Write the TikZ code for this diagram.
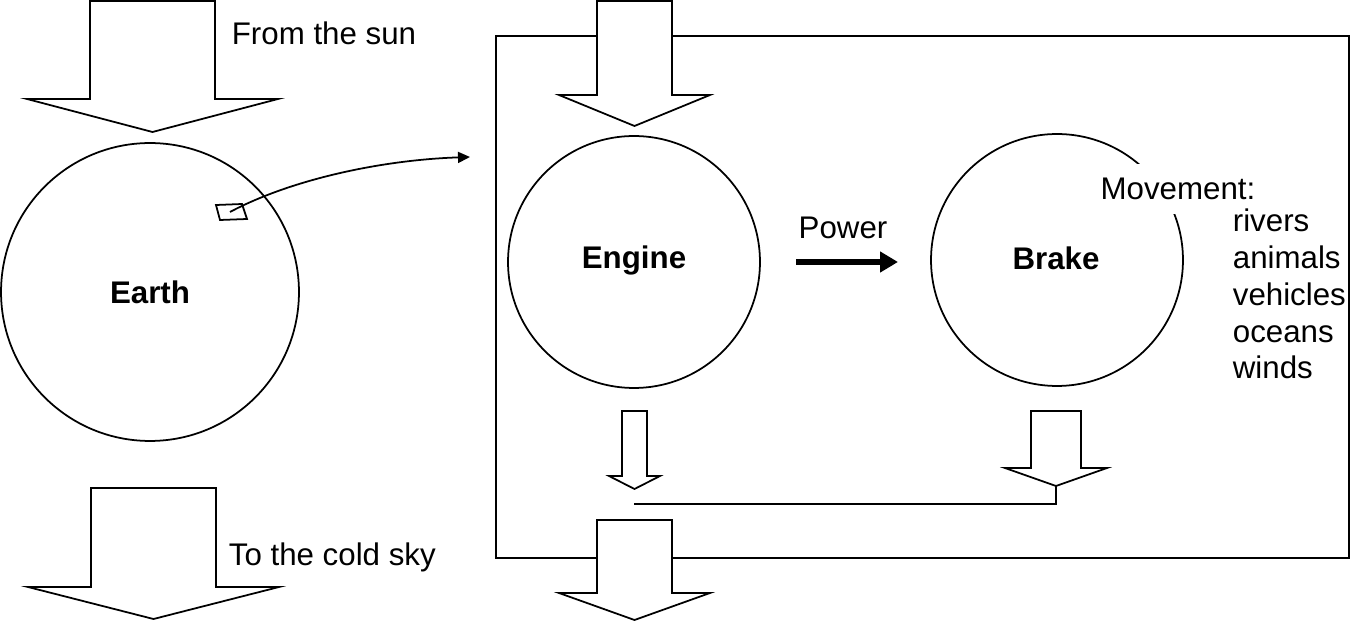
\documentclass[tikz,border=0pt]{standalone}
\usepackage{fontspec}
\setmainfont{Liberation Sans}
\usetikzlibrary{arrows.meta}
\newcommand{\txtsize}{\fontsize{17.8}{20.9}\selectfont}
\tikzset{
  ball/.style={circle,draw,inner sep=0pt,minimum size=#1},
  lbl/.style={font=\txtsize,inner sep=0pt},
  blockarrow/.style={draw,fill=white,line join=miter},
  powerline/.style={line width=3.4pt,-{Triangle[length=0.36cm,width=0.4cm]}},
  thinarrow/.style={-{Triangle[length=0.24cm,width=0.22cm]}}
}

\begin{document}
\begin{tikzpicture}[x=0.02cm,y=-0.02cm,line width=1pt]
\useasboundingbox (0,0) rectangle (1363,621);
%system box
\draw (496,36) rectangle (1349,558);
%earth
\node[ball=5.96cm,font=\txtsize\bfseries] (earth) at (150,292) {Earth};
\draw (216,205)--(242,204)--(247,219)--(220,220)--cycle; %patch
\coordinate (patch) at (230,212);
\coordinate (zoomin) at (470,157);
\draw[thinarrow] (patch) .. controls (290,180) and (380,160) .. (zoomin);
%engine and brake
\node[ball=5.04cm,font=\txtsize\bfseries] (engine) at (634,262) {};
\node[lbl,font=\txtsize\bfseries] (enginelbl) at (634,260) {Engine};
\node[ball=5.04cm] (brake) at (1057,260) {};
\node[lbl,font=\txtsize\bfseries] (brakelbl) at (1056,258) {Brake};
%block arrows
\foreach \nm/\cx/\ty/\hy/\tipy/\sw/\hw in {sun/152.5/1/99/132/62.5/125.5,
    sky/153.5/488/587/619/62.5/125.5, top/634.5/1/95/126/37.5/75.5,
    out/634.5/520/593/620/37.5/75.5, heat/634.5/411/476/489/12.5/25.5,
    waste/1056/411/468/486/25/51}{
  \draw[blockarrow] ({\cx-\sw},\ty)--({\cx+\sw},\ty)--({\cx+\sw},\hy)--({\cx+\hw},\hy)
    --(\cx,\tipy)--({\cx-\hw},\hy)--({\cx-\sw},\hy)--cycle;
  \coordinate (\nm) at (\cx,\tipy);
}
\coordinate (join) at (634,504);
\draw (waste) |- (join);
%power
\node[lbl] (power) at (843,228) {Power};
\coordinate (pw1) at (796,262);
\coordinate (pw2) at (898,262);
\draw[powerline] (pw1) -- (pw2);
%labels
\node[lbl,anchor=west] (sunlbl) at (231,33) {From the sun};
\node[lbl,anchor=west] (skylbl) at (228,557) {To the cold sky};
\node[lbl,fill=white,inner xsep=3pt,minimum height=1.02cm] (move) at (1178,189) {Movement:};
\foreach \w [count=\i] in {rivers,animals,vehicles,oceans,winds}
  \node[lbl,anchor=base west] (m\i) at (1232,{232+36.7*(\i-1)}) {\w};
\end{tikzpicture}
\end{document}
